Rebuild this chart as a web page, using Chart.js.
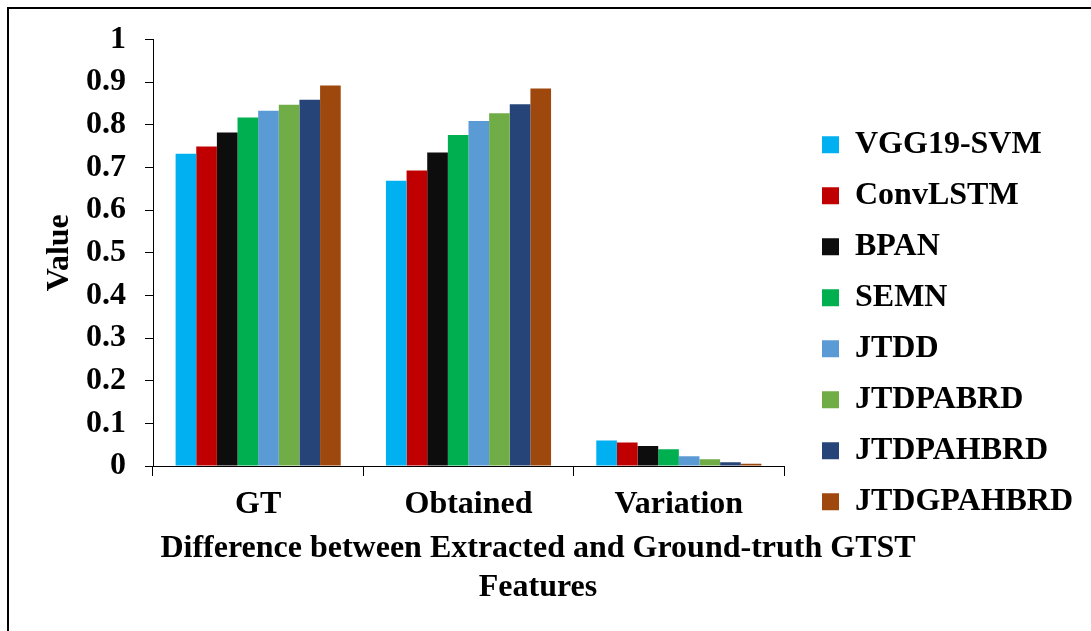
<!DOCTYPE html>
<html>
<head>
<meta charset="utf-8">
<script src="https://cdn.jsdelivr.net/npm/chart.js@4.4.0/dist/chart.umd.min.js"></script>
<style>
  html, body { margin: 0; padding: 0; background: #fff; overflow: hidden; }
  #wrap { position: relative; width: 1091px; height: 631px; }
  #frame { position: absolute; left: 7px; top: 7px; width: 1100px; height: 640px;
           border-top: 2px solid #000; border-left: 2px solid #000; pointer-events: none; }
</style>
</head>
<body>
<div id="wrap">
  <canvas id="chart" width="1091" height="631"></canvas>
  <div id="frame"></div>
</div>
<script>
// 데이터
const categories = ['GT', 'Obtained', 'Variation'];
const vgg19Svm   = [0.732, 0.669, 0.060];
const convLstm   = [0.749, 0.693, 0.055];
const bpan       = [0.782, 0.735, 0.047];
const semn       = [0.817, 0.776, 0.039];
const jtdd       = [0.833, 0.809, 0.023];
const jtdpabrd   = [0.847, 0.827, 0.016];
const jtdpahbrd  = [0.859, 0.848, 0.009];
const jtdgpahbrd = [0.892, 0.885, 0.005];

Chart.defaults.font = { family: "'Liberation Serif', 'Times New Roman', serif", size: 32, weight: 'bold' };
Chart.defaults.color = '#000';

const bar = (label, data, color) => ({
  label, data, backgroundColor: color, borderWidth: 0,
  categoryPercentage: 0.785, barPercentage: 1,
});

new Chart(document.getElementById('chart'), {
  type: 'bar',
  data: {
    labels: categories,
    datasets: [
      bar('VGG19-SVM', vgg19Svm, '#00B0F0'),
      bar('ConvLSTM', convLstm, '#C00000'),
      bar('BPAN', bpan, '#0D0D0D'),
      bar('SEMN', semn, '#00B050'),
      bar('JTDD', jtdd, '#5B9BD5'),
      bar('JTDPABRD', jtdpabrd, '#70AD47'),
      bar('JTDPAHBRD', jtdpahbrd, '#264478'),
      bar('JTDGPAHBRD', jtdgpahbrd, '#9E480E'),
    ],
  },
  options: {
    responsive: false, animation: false, devicePixelRatio: 1,
    // 왼쪽 음수 여백: 아래 제목을 원본처럼 538px 중심에 맞추려고
    layout: { padding: { left: -3, right: 12, top: 39.5, bottom: 24.2 } },
    plugins: {
      legend: {
        position: 'right', maxWidth: 276,
        labels: { boxWidth: 17, boxHeight: 17, padding: 19, color: '#000' },
      },
      title: {
        display: true, position: 'bottom', color: '#000',
        text: ['Difference between Extracted and Ground-truth GTST', 'Features'],
        padding: { top: 0, bottom: 0 },
      },
      tooltip: { enabled: false },
    },
    scales: {
      x: {
        grid: { drawOnChartArea: false, tickLength: 10, color: '#000' },
        border: { color: '#000' },
        ticks: { color: '#000', padding: 10 },
        afterFit: (s) => { s.height = 64; },
      },
      y: {
        min: 0, max: 1,
        ticks: { stepSize: 0.1, color: '#000', padding: 19, callback: (v) => String(Number(v.toFixed(1))) },
        grid: { drawOnChartArea: false, tickLength: 8, color: '#000' },
        border: { color: '#000' },
        title: { display: true, text: 'Value', color: '#000', padding: { top: 44, bottom: 0 } },
        afterFit: (s) => { s.width = 156; },
      },
      // 범례 앞 여백용
      y2: {
        position: 'right',
        grid: { display: false }, border: { display: false }, ticks: { display: false },
        afterFit: (s) => { s.width = 19; },
      },
    },
  },
});
</script>
</body>
</html>
